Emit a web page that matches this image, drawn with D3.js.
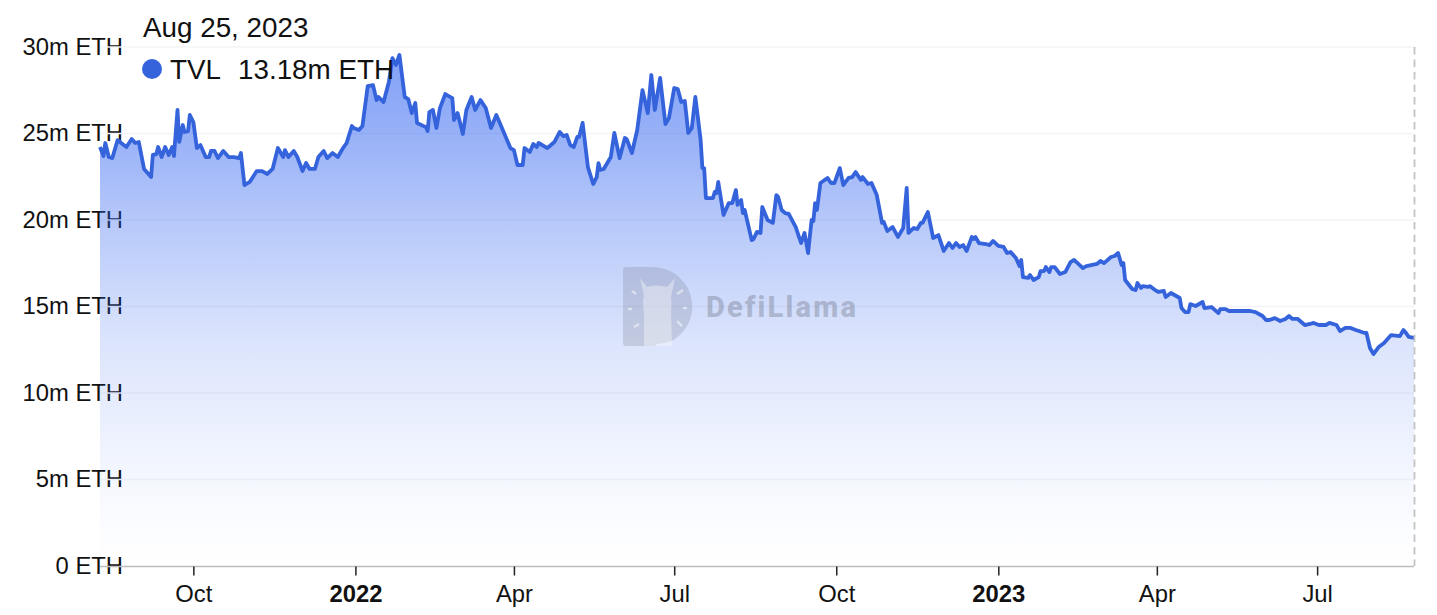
<!DOCTYPE html>
<html>
<head>
<meta charset="utf-8">
<script src="https://cdn.jsdelivr.net/npm/d3@7"></script>
<style>
html,body{margin:0;padding:0;background:#fff}
svg{display:block}
text{font-family:"Liberation Sans",Arial,sans-serif;fill:#111}
</style>
</head>
<body>
<svg id="chart" width="1437" height="615"></svg>
<script>
const startDate = "2021-08-09";
const dayOffsets = [
0,2,3,5,7,10,12,15,18,20,22,25,27,29,30,32,33,35,37,39,
41,42,44,45,47,48,50,51,53,55,57,60,62,63,65,67,70,73,76,79,
80,82,85,89,92,95,98,101,104,105,107,110,112,115,117,119,122,124,127,129,
132,135,138,140,143,144,147,149,152,155,157,158,161,164,166,168,170,173,175,177,
179,180,185,186,187,189,191,193,196,200,201,203,206,208,211,213,216,219,222,225,
227,233,235,237,240,241,244,246,248,249,254,258,261,263,265,267,269,271,272,274,
277,280,282,283,284,286,290,292,295,298,299,302,305,308,311,313,315,318,321,323,
326,328,330,332,334,336,338,341,342,343,344,348,349,350,351,354,357,359,361,362,
364,365,366,370,371,373,375,376,379,382,384,385,387,389,391,395,398,400,402,404,
405,406,407,409,413,415,417,420,422,425,427,429,432,433,436,438,441,444,445,447,
450,453,456,458,459,462,464,466,467,470,473,476,479,482,484,486,488,490,492,495,
496,497,499,503,505,507,510,513,515,517,520,522,523,524,527,528,530,533,534,536,
537,539,540,542,545,548,551,553,555,558,560,566,568,570,574,576,578,580,581,582,
586,588,589,591,592,595,596,599,601,604,605,608,613,614,616,618,619,622,626,627,
631,635,636,639,641,647,653,656,660,662,664,667,670,673,675,677,680,684,687,689,
692,696,698,702,704,707,710,713,718,719,721,723,726,729,733,738,740,741,743,746
];
const tvl = [
24.22,23.70,24.45,23.64,23.58,24.62,24.45,24.22,24.68,24.45,24.51,22.95,22.72,22.48,23.76,23.81,24.22,23.64,24.22,23.76,
24.22,23.70,26.36,24.51,25.49,25.09,25.14,26.07,25.66,24.16,24.33,23.64,23.64,23.99,23.99,23.58,23.99,23.64,23.64,23.58,
23.87,22.02,22.20,22.83,22.83,22.66,22.95,24.16,23.64,24.04,23.64,23.99,23.64,22.83,23.29,22.95,22.95,23.64,23.99,23.58,
23.87,23.64,24.16,24.45,25.43,25.32,25.20,25.43,27.74,27.80,26.93,27.11,26.82,27.98,29.36,28.96,29.54,27.11,26.99,26.18,
26.76,25.61,25.37,25.14,26.24,26.36,25.32,26.47,27.28,27.05,25.78,26.18,24.97,26.36,27.11,26.36,26.93,26.47,25.32,26.07,
25.61,24.16,24.04,23.18,23.18,24.16,23.93,24.39,24.22,24.45,24.16,24.51,25.09,24.85,24.91,24.33,24.22,24.80,24.80,25.61,
23.06,22.08,22.48,23.29,22.89,22.95,23.64,25.03,23.58,24.74,24.68,23.87,25.20,27.51,26.18,28.38,26.36,28.21,25.55,25.89,
27.63,27.57,26.82,26.88,25.03,25.32,27.11,24.62,23.00,23.00,21.27,21.27,21.62,21.56,22.20,20.29,20.98,20.98,21.73,20.87,
21.15,20.40,20.58,18.84,18.90,19.31,19.25,20.75,20.00,19.83,21.44,21.33,20.58,20.40,20.35,19.59,18.67,19.25,18.09,20.00,
19.94,20.98,20.58,22.14,22.43,22.14,22.14,23.00,22.02,22.43,22.48,22.77,22.31,22.48,22.08,22.14,21.44,19.83,19.88,19.36,
19.59,19.02,19.54,21.85,19.25,19.54,19.48,19.83,19.83,20.46,18.96,19.13,18.21,18.67,18.38,18.67,18.44,18.55,18.21,19.02,
18.90,19.02,18.67,18.61,18.55,18.79,18.50,18.44,18.09,18.15,17.80,17.34,17.69,16.70,16.65,16.82,16.53,16.70,17.05,17.05,
17.28,16.99,17.28,17.28,16.88,16.99,17.57,17.69,17.51,17.22,17.34,17.46,17.63,17.51,17.86,17.92,18.09,17.40,17.51,16.53,
16.01,15.95,16.36,16.07,16.18,16.13,16.18,15.95,15.84,15.90,15.55,15.78,15.49,14.91,14.68,14.68,15.14,15.03,15.26,14.91,
14.97,14.62,14.85,14.85,14.74,14.74,14.74,14.68,14.45,14.22,14.22,14.33,14.16,14.28,14.45,14.28,14.28,13.93,13.99,14.05,
13.93,13.93,14.05,13.93,13.58,13.76,13.76,13.64,13.47,13.47,12.60,12.25,12.66,12.89,13.35,13.29,13.64,13.53,13.24,13.18
];
const yTicks = [0,5,10,15,20,25,30];
const xTicks = ["2021-10-01","2022-01-01","2022-04-01","2022-07-01","2022-10-01","2023-01-01","2023-04-01","2023-07-01"];
const xTickLabels = ["Oct","2022","Apr","Jul","Oct","2023","Apr","Jul"];
const headerDate = "Aug 25, 2023";
const seriesName = "TVL";
const seriesValue = "13.18m ETH";
const watermark = "DefiLlama";

const lineColor = "#3563dc";
const fillColor = "#2f62f0";
const svg = d3.select("#chart");
const MS = 86400000;
const t0 = Date.parse(startDate + "T00:00:00Z");
const data = dayOffsets.map((d, i) => ({date: new Date(t0 + d * MS), v: tvl[i]}));

const x = d3.scaleUtc().domain([data[0].date, data[data.length - 1].date]).range([100, 1414]);
const y = d3.scaleLinear().domain([0, 30]).range([566, 47]);

// gradient (eased fade towards the baseline)
const grad = svg.append("defs").append("linearGradient")
  .attr("id", "fill").attr("gradientUnits", "userSpaceOnUse")
  .attr("x1", 0).attr("x2", 0).attr("y1", y(d3.max(tvl))).attr("y2", y(0));
[[0,0.6],[0.15,0.5],[0.36,0.32],[0.56,0.17],[0.83,0.05],[0.95,0.01],[1,0]].forEach(s =>
  grad.append("stop").attr("offset", s[0]).attr("stop-color", fillColor).attr("stop-opacity", s[1]));

// y axis labels (underneath the area)
const yAxis = d3.axisLeft(y).tickValues(yTicks).tickSize(0).tickPadding(0)
  .tickFormat(v => v === 0 ? "0 ETH" : v + "m ETH");
const gy = svg.append("g").attr("transform", "translate(123,0)").call(yAxis);
gy.select(".domain").remove();
gy.selectAll("text").style("font-size", "23.8px").style("font-family", '"Liberation Sans"').attr("fill", "#111").attr("dy", "0.3em");

// grid
svg.append("g").selectAll("line").data(yTicks.filter(v => v > 0)).join("line")
  .attr("x1", 100).attr("x2", 1414).attr("y1", d => y(d)).attr("y2", d => y(d))
  .attr("stroke", "#f3f4f7").attr("stroke-width", 1.5);

// area
const area = d3.area().x(d => x(d.date)).y0(y(0)).y1(d => y(d.v));
const line = d3.line().x(d => x(d.date)).y(d => y(d.v));
svg.append("path").datum(data).attr("d", area).attr("fill", "url(#fill)");

// watermark
const wm = svg.append("g");
wm.append("path")
  .attr("d", "M623,270 Q623,267 626,267 H652 A39.5,39.5 0 0 1 672,341 Q664,344 656,344 V346 H626 Q623,346 623,343 Z")
  .attr("fill", "#6f7686").attr("opacity", 0.23);
wm.append("path")
  .attr("d", "M640,278 L647,287 Q657,284 667,287 L675,278 L671,297 Q672,304 671,312 L672,346 H644 L644,312 Q642,300 644,296 Z")
  .attr("fill", "#fff").attr("opacity", 0.36);
wm.selectAll("line.mark").data([[632,291,636,294],[628,309,632,309],[634,327,639,324],[677,294,683,290],[683,308,687,308],[677,321,682,326]])
  .join("line").attr("x1", d => d[0]).attr("y1", d => d[1]).attr("x2", d => d[2]).attr("y2", d => d[3])
  .attr("stroke", "#fff").attr("stroke-width", 2.4).attr("opacity", 0.5);
wm.append("text").text(watermark).attr("x", 706).attr("y", 317)
  .style("font-family", "Roboto").style("font-weight", 800).style("font-size", "29px").style("letter-spacing", "2.2px")
  .style("fill", "#6f7686").attr("opacity", 0.38);

// line
svg.append("path").datum(data).attr("d", line).attr("fill", "none")
  .attr("stroke", lineColor).attr("stroke-width", 3.8).attr("stroke-linejoin", "round");

// pointer dashed line
svg.append("line").attr("x1", x.range()[1] + 0.5).attr("x2", x.range()[1] + 0.5).attr("y1", 47).attr("y2", 566)
  .attr("stroke", "#c4c4c4").attr("stroke-width", 1.8).attr("stroke-dasharray", "7.5 5");

// x axis
const tickDates = xTicks.map(s => new Date(s + "T00:00:00Z"));
const xAxis = d3.axisBottom(x).tickValues(tickDates).tickSize(9).tickPadding(10)
  .tickFormat((d, i) => xTickLabels[i]);
const gx = svg.append("g").attr("transform", "translate(0,566.5)").call(xAxis);
gx.select(".domain").attr("stroke", "#bdbdbd").attr("stroke-width", 1.6).attr("d", "M100,0H1414");
gx.selectAll("line").attr("stroke", "#222").attr("stroke-width", 1.5);
gx.selectAll("text").style("font-size", "23.8px").style("font-family", '"Liberation Sans"').attr("fill", "#111")
  .style("font-weight", (d, i) => /^\d+$/.test(xTickLabels[i]) ? "700" : "400");

// header
svg.append("text").text(headerDate).attr("x", 143).attr("y", 37).style("font-size", "27.8px");
svg.append("circle").attr("cx", 152).attr("cy", 69).attr("r", 10).attr("fill", lineColor);
svg.append("text").text(seriesName).attr("x", 170).attr("y", 79).style("font-size", "27.8px");
svg.append("text").text(seriesValue).attr("x", 238).attr("y", 79).style("font-size", "27.8px");
</script>
</body>
</html>
